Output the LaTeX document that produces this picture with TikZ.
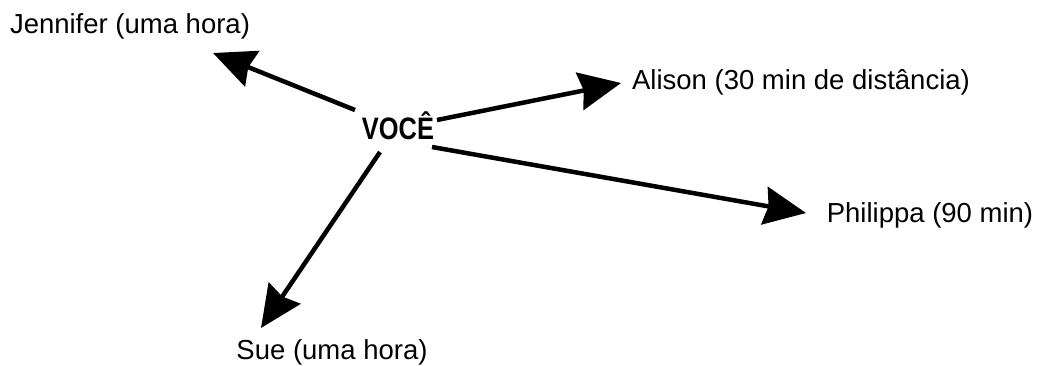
\documentclass[tikz,border=0pt]{standalone}
\usepackage{fontspec}
\setmainfont{Liberation Sans}
\usetikzlibrary{arrows.meta}
\begin{document}
\begin{tikzpicture}[x=1pt,y=-1pt,
  lbl/.style={font=\fontsize{27.5}{30}\selectfont, inner sep=0pt, anchor=center},
  arr/.style={line width=4.5pt, -{Stealth[length=42pt,width=38pt,inset=4pt]}}]
\useasboundingbox (0,0) rectangle (1041,365);
\node[lbl] (jen) at (130,26) {Jennifer (uma hora)};
\node[lbl, font=\fontsize{31}{33}\selectfont\bfseries, xscale=0.82] (voce) at (398,126) {VOCÊ};
\node[lbl] (ali) at (801,82) {Alison (30 min de distância)};
\node[lbl] (phi) at (930,215) {Philippa (90 min)};
\node[lbl] (sue) at (332,352) {Sue (uma hora)};
\coordinate (s1) at (355,110); \coordinate (t1) at (213,53);
\coordinate (s2) at (437,120); \coordinate (t2) at (621,83);
\coordinate (s3) at (432,147); \coordinate (t3) at (806,213);
\coordinate (s4) at (380,152); \coordinate (t4) at (261,328);
\draw[arr] (s1) -- (t1);
\draw[arr] (s2) -- (t2);
\draw[arr] (s3) -- (t3);
\draw[arr] (s4) -- (t4);
\end{tikzpicture}
\end{document}
